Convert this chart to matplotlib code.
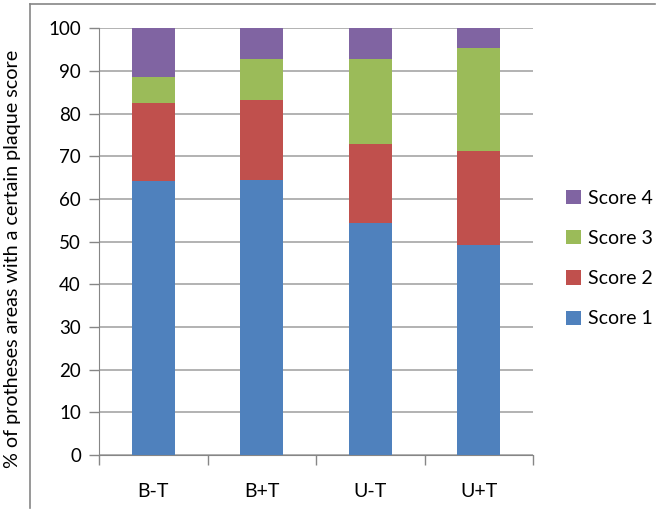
import matplotlib
matplotlib.use("Agg")
import matplotlib.pyplot as plt
from matplotlib.lines import Line2D
import numpy as np

categories = ["B-T", "B+T", "U-T", "U+T"]
score1 = [64.2, 64.5, 54.3, 49.1]
score2 = [18.3, 18.8, 18.5, 22.2]
score3 = [6.2, 9.5, 20.0, 24.1]
score4 = [11.3, 7.2, 7.2, 4.6]
series_names = ["Score 1", "Score 2", "Score 3", "Score 4"]
colors = ["#4F81BD", "#C0504D", "#9BBB59", "#8064A2"]
y_ticks = [0, 10, 20, 30, 40, 50, 60, 70, 80, 90, 100]

plt.rcParams['font.family'] = ['Lato', 'DejaVu Sans']

W, H = 658, 512
fig = plt.figure(figsize=(W/100, H/100), dpi=100)
ax = fig.add_axes([99/W, 1-455/H, (533-99)/W, (455-28.3)/H])

x = np.arange(len(categories))
bottom = np.zeros(len(categories))
handles = []
for vals, name, c in zip([score1, score2, score3, score4], series_names, colors):
    b = ax.bar(x, vals, width=0.4, bottom=bottom, color=c, label=name, zorder=3)
    handles.append(b)
    bottom += np.array(vals)

ax.set_xlim(-0.5, len(categories) - 0.5)
ax.set_ylim(0, 100)
ax.set_yticks(y_ticks)
ax.set_yticklabels([str(t) for t in y_ticks], fontsize=13.5, color="#000000")
ax.set_xticks(x)
ax.set_xticklabels(categories, fontsize=14)
ax.tick_params(axis='x', length=0, pad=20)
ax.set_xticks(np.arange(-0.5, len(categories), 1), minor=True)
ax.tick_params(axis='x', which='minor', length=7, color="#868686", width=1)
ax.tick_params(axis='y', length=7, color="#868686", width=1, pad=6)
ax.yaxis.grid(True, color="#A6A6A6", linewidth=1.2, zorder=0)
ax.set_axisbelow(True)
for s in ['top', 'right']:
    ax.spines[s].set_visible(False)
ax.spines['left'].set_color("#868686")
ax.spines['bottom'].set_color("#868686")

fig.text(13/W, 1-259/H, "% of protheses areas with a certain plaque score",
         rotation=90, ha='center', va='center', fontsize=14.2)

leg = fig.legend(handles[::-1], series_names[::-1], loc='center left',
                 bbox_to_anchor=(566/W, 1-258.5/H), frameon=False, fontsize=14,
                 handlelength=0.75, handleheight=0.75, labelspacing=1.2,
                 handletextpad=0.4, borderpad=0, borderaxespad=0)

# outer chart frame (partially visible)
fig.add_artist(Line2D([30/W, 655/W], [1-3.5/H, 1-3.5/H], color="#868686", linewidth=1.2))
fig.add_artist(Line2D([30/W, 30/W], [1-3.5/H, 1-508/H], color="#868686", linewidth=1.2))

fig.savefig("out.png", dpi=100)
